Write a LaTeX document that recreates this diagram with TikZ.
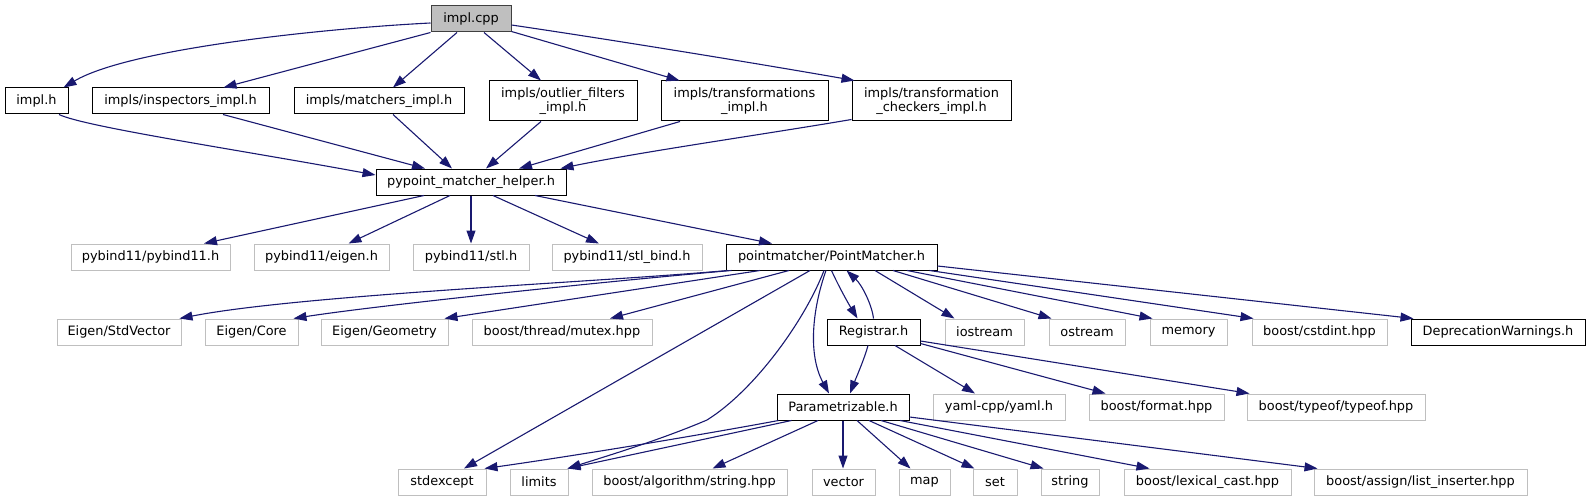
\documentclass[tikz,border=0pt]{standalone}
\usepackage{fontspec}
\setmainfont{DejaVu Sans}
\usetikzlibrary{arrows.meta,calc}
\definecolor{edgecol}{HTML}{191970}
\definecolor{extcol}{HTML}{BFBFBF}
\definecolor{rootfill}{HTML}{BFBFBF}
\tikzset{
  box/.style={rectangle, inner sep=0pt, align=center, text=black,
    font=\fontsize{12.9pt}{14.5pt}\selectfont, line width=1pt, fill=white},
  doc/.style={box, draw=black, minimum height=26pt},
  doctwo/.style={box, draw=black, minimum height=40pt},
  ext/.style={box, draw=extcol, minimum height=26pt},
  root/.style={box, draw=black!75, fill=rootfill, minimum height=26pt},
  dep/.style={draw=edgecol, line width=1.1pt, -{Triangle[length=13pt,width=9pt]}}
}
\begin{document}
\begin{tikzpicture}[x=1pt,y=-1pt]
\path[use as bounding box] (0,0) rectangle (1590,500);

% row 1
\node[root, minimum width=80pt] (cpp) at (471,19) {impl.cpp};
% row 2
\node[doc, minimum width=63pt] (implh) at (36.5,101) {impl.h};
\node[doc, minimum width=177pt] (insp) at (180.5,101) {impls/inspectors\_impl.h};
\node[doc, minimum width=170pt] (match) at (379,101) {impls/matchers\_impl.h};
\node[doctwo, minimum width=148pt] (outl) at (563,101) {impls/outlier\_filters\\\_impl.h};
\node[doctwo, minimum width=167pt] (trans) at (744.5,101) {impls/transformations\\\_impl.h};
\node[doctwo, minimum width=159pt] (check) at (931.5,101) {impls/transformation\\\_checkers\_impl.h};
% row 3
\node[doc, minimum width=190pt] (pyh) at (471,182) {pypoint\_matcher\_helper.h};
% row 4
\node[ext, minimum width=159pt] (pb) at (150.5,257) {pybind11/pybind11.h};
\node[ext, minimum width=135pt] (pe) at (321.5,257) {pybind11/eigen.h};
\node[ext, minimum width=116pt] (ps) at (471,257) {pybind11/stl.h};
\node[ext, minimum width=150pt] (psb) at (627,257) {pybind11/stl\_bind.h};
\node[doc, minimum width=211pt] (pm) at (831.5,257) {pointmatcher/PointMatcher.h};
% row 5
\node[ext, minimum width=124pt] (sv) at (119,332) {Eigen/StdVector};
\node[ext, minimum width=93pt] (core) at (251.5,332) {Eigen/Core};
\node[ext, minimum width=127pt] (geom) at (384.5,332) {Eigen/Geometry};
\node[ext, minimum width=180pt] (mutex) at (562,332) {boost/thread/mutex.hpp};
\node[doc, minimum width=93pt] (reg) at (873.5,332) {Registrar.h};
\node[ext, minimum width=79pt] (ios) at (984.5,332) {iostream};
\node[ext, minimum width=76pt] (ost) at (1087,332) {ostream};
\node[ext, minimum width=77pt] (mem) at (1188.5,332) {memory};
\node[ext, minimum width=135pt] (cst) at (1319.5,332) {boost/cstdint.hpp};
\node[doc, minimum width=174pt] (depw) at (1498,332) {DeprecationWarnings.h};
% row 6
\node[doc, minimum width=132pt] (par) at (843,407) {Parametrizable.h};
\node[ext, minimum width=132pt] (yaml) at (999,407) {yaml-cpp/yaml.h};
\node[ext, minimum width=135pt] (fmt) at (1156.5,407) {boost/format.hpp};
\node[ext, minimum width=178pt] (tyof) at (1336,407) {boost/typeof/typeof.hpp};
% row 7
\node[ext, minimum width=88pt] (sx) at (442,482) {stdexcept};
\node[ext, minimum width=58pt] (lim) at (539,482) {limits};
\node[ext, minimum width=195pt] (alg) at (689.5,482) {boost/algorithm/string.hpp};
\node[ext, minimum width=63pt] (vec) at (843.5,482) {vector};
\node[ext, minimum width=51pt] (map) at (924.5,482) {map};
\node[ext, minimum width=44pt] (set) at (995,482) {set};
\node[ext, minimum width=58pt] (str) at (1070,482) {string};
\node[ext, minimum width=167pt] (lex) at (1207.5,482) {boost/lexical\_cast.hpp};
\node[ext, minimum width=213pt] (lst) at (1420.5,482) {boost/assign/list\_inserter.hpp};

% impl.cpp edges
\draw[dep] ($(cpp.west)+(0,4)$) .. controls (330,28) and (130,48) .. ($(implh.north)+(27,0)$);
\draw[dep] (cpp.south west) -- ($(insp.north)+(43,0)$);
\draw[dep] ($(cpp.south)+(-14,0)$) -- ($(match.north)+(14,0)$);
\draw[dep] ($(cpp.south)+(13,0)$) -- ($(outl.north)+(-22,0)$);
\draw[dep] ($(cpp.south east)+(0,-1)$) -- ($(trans.north)+(-65,0)$);
\draw[dep] ($(cpp.east)+(0,6)$) .. controls (620,41) and (760,64) .. ($(check.north west)+(3,0)$);

% row 2 -> helper
\draw[dep] ($(implh.south)+(22.5,0)$) .. controls (85,127) and (240,150) .. ($(pyh.west)+(0,-7)$);
\draw[dep] ($(insp.south)+(42.5,0)$) -- ($(pyh.north)+(-46,0)$);
\draw[dep] ($(match.south)+(14,0)$) -- ($(pyh.north)+(-19,0)$);
\draw[dep] ($(outl.south)+(-22,0)$) -- ($(pyh.north)+(15,0)$);
\draw[dep] ($(trans.south)+(-64.5,0)$) -- ($(pyh.north)+(48,0)$);
\draw[dep] ($(check.south west)+(0,-2)$) .. controls (760,135) and (640,152) .. ($(pyh.north east)+(-6,0)$);

% helper -> row 4
\draw[dep] ($(pyh.south)+(-47,0)$) -- ($(pb.north)+(53.5,0)$);
\draw[dep] ($(pyh.south)+(-21,0)$) -- ($(pe.north)+(27,0)$);
\draw[dep] (pyh.south) -- (ps.north);
\draw[dep] ($(pyh.south)+(22,0)$) -- ($(psb.north)+(-28,0)$);
\draw[dep] ($(pyh.south)+(64,0)$) -- ($(pm.north)+(-59.5,0)$);

% PointMatcher edges
\draw[dep] ($(pm.south west)+(2,0)$) .. controls (600,282) and (300,295) .. ($(sv.north east)+(-2,0)$);
\draw[dep] ($(pm.south west)+(6,0)$) .. controls (620,280) and (380,305) .. ($(core.north east)+(-5,0)$);
\draw[dep] ($(pm.south)+(-71.5,0)$) -- ($(geom.north east)+(-4,0)$);
\draw[dep] ($(pm.south)+(-42.5,0)$) -- ($(mutex.north)+(48,0)$);
\draw[dep] ($(pm.south)+(-21.5,0)$) -- ($(sx.north)+(22,0)$);
\draw[dep] ($(pm.south)+(-7.5,0)$) .. controls (805,320) and (755,390) .. (707,420)
   .. controls (660,440) and (610,455) .. ($(lim.north east)+(-1,0)$);
\draw[dep] ($(pm.south)+(-5.5,0)$) .. controls (812,310) and (808,355) .. ($(par.north)+(-14,0)$);
\draw[dep] (pm.south) .. controls (838,285) and (848,303) .. ($(reg.north)+(-16,0)$);
\draw[dep] (reg.north) .. controls (872,305) and (862,285) .. ($(pm.south)+(15,0)$);
\draw[dep] ($(pm.south)+(43.5,0)$) -- ($(ios.north west)+(10,0)$);
\draw[dep] ($(pm.south)+(61.5,0)$) -- ($(ost.north west)+(3,0)$);
\draw[dep] ($(pm.south)+(75.5,0)$) -- ($(mem.north west)+(3,0)$);
\draw[dep] ($(pm.south east)+(-8,0)$) -- ($(cst.north west)+(2,0)$);
\draw[dep] ($(pm.east)+(0,9)$) -- ($(depw.north west)+(3,0)$);

% Registrar edges
\draw[dep] ($(reg.south)+(-5.5,0)$) .. controls (864,360) and (856,378) .. ($(par.north)+(7,0)$);
\draw[dep] ($(reg.south)+(21.5,0)$) -- ($(yaml.north)+(-24,0)$);
\draw[dep] ($(reg.south east)+(0,-2)$) -- ($(fmt.north west)+(17,0)$);
\draw[dep] ($(reg.east)+(0,9)$) -- ($(tyof.north west)+(3,0)$);

% Parametrizable edges
\draw[dep] ($(par.south west)+(2,0)$) .. controls (690,437) and (560,458) .. ($(sx.north east)+(-2,0)$);
\draw[dep] ($(par.south west)+(15,0)$) -- ($(lim.north east)+(-1,0)$);
\draw[dep] ($(par.south)+(-25,0)$) -- ($(alg.north)+(23,0)$);
\draw[dep] (par.south) -- ($(vec.north)+(-0.5,0)$);
\draw[dep] ($(par.south)+(14,0)$) -- ($(map.north)+(-14,0)$);
\draw[dep] ($(par.south)+(26,0)$) -- ($(set.north west)+(2,0)$);
\draw[dep] ($(par.south)+(38,0)$) -- ($(str.north west)+(3,0)$);
\draw[dep] ($(par.south)+(57,0)$) -- ($(lex.north west)+(26,0)$);
\draw[dep] ($(par.east)+(0,10)$) -- ($(lst.north west)+(4,0)$);
\end{tikzpicture}
\end{document}
